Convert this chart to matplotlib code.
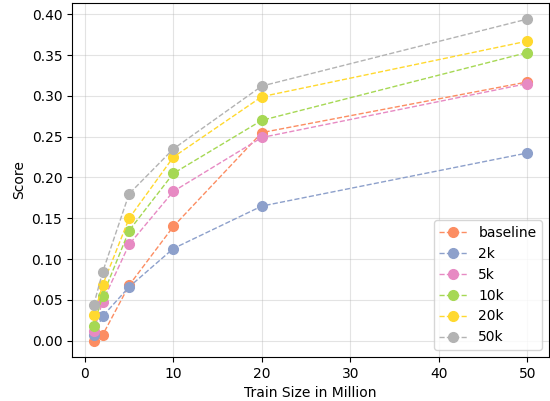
import matplotlib
matplotlib.use("Agg")
import matplotlib.pyplot as plt

# train sizes (million) and scores per setting
train_sizes = [1, 2, 5, 10, 20, 50]
labels = ["baseline", "2k", "5k", "10k", "20k", "50k"]
baseline = [0.000, 0.007, 0.068, 0.140, 0.255, 0.317]
s2k = [0.007, 0.030, 0.066, 0.113, 0.165, 0.230]
s5k = [0.012, 0.048, 0.118, 0.183, 0.249, 0.315]
s10k = [0.018, 0.055, 0.135, 0.205, 0.270, 0.353]
s20k = [0.031, 0.068, 0.150, 0.225, 0.299, 0.367]
s50k = [0.044, 0.084, 0.180, 0.235, 0.312, 0.394]
colors = ["#fc8d62", "#8da0cb", "#e78ac3", "#a6d854", "#ffd92f", "#b3b3b3"]

fig, ax = plt.subplots(figsize=(5.5, 4.01), dpi=100)
for ys, lab, c in zip([baseline, s2k, s5k, s10k, s20k, s50k], labels, colors):
    ax.plot(train_sizes, ys, "o--", color=c, label=lab, lw=1, ms=7)

ax.set_xlabel("Train Size in Million")
ax.set_ylabel("Score")
ax.set_yticks([0, 0.05, 0.1, 0.15, 0.2, 0.25, 0.3, 0.35, 0.4])
ax.grid(True, alpha=0.35)
ax.legend(loc="lower right")
fig.subplots_adjust(left=0.131, right=0.998, top=0.9925, bottom=0.11)
fig.savefig("out.png")
